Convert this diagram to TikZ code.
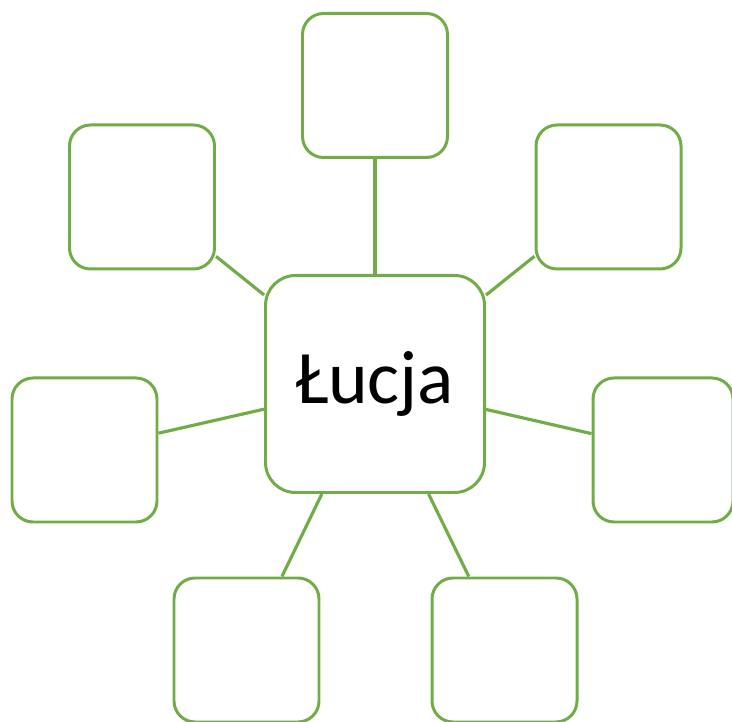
\documentclass[tikz,border=0pt]{standalone}
\usepackage{fontspec}
\setmainfont{Carlito}
\definecolor{leafgreen}{HTML}{70AD47}

\tikzset{
  petal/.style={draw=leafgreen,line width=1.7pt,rounded corners=0.42cm,fill=white,
    inner sep=0pt,minimum width=2.9cm,minimum height=2.88cm},
  stem/.style={draw=leafgreen,line width=1.8pt}
}

\begin{document}
\begin{tikzpicture}
  \useasboundingbox (0,0) rectangle (14.64,14.44);

  \node[petal,rounded corners=0.6cm,minimum width=4.38cm,minimum height=4.34cm]
    (lucja) at (7.5,6.76){\fontsize{43}{50}\selectfont Łucja};

  \node[petal] (top) at (7.5,12.73){};
  \node[petal] (topleft) at (2.84,10.5){};
  \node[petal] (topright) at (12.17,10.5){};
  \node[petal] (left) at (1.69,5.44){};
  \node[petal,minimum width=2.8cm] (right) at (13.26,5.44){};
  \node[petal] (botleft) at (4.93,1.44){};
  \node[petal] (botright) at (10.09,1.44){};

  \draw[stem] (lucja) -- (top);
  \draw[stem] (lucja) -- (topleft);
  \draw[stem] (lucja) -- (topright);
  \draw[stem] (lucja) -- (left);
  \draw[stem] (lucja) -- (right);
  \draw[stem] (lucja) -- (botleft);
  \draw[stem] (lucja) -- (botright);
\end{tikzpicture}
\end{document}
